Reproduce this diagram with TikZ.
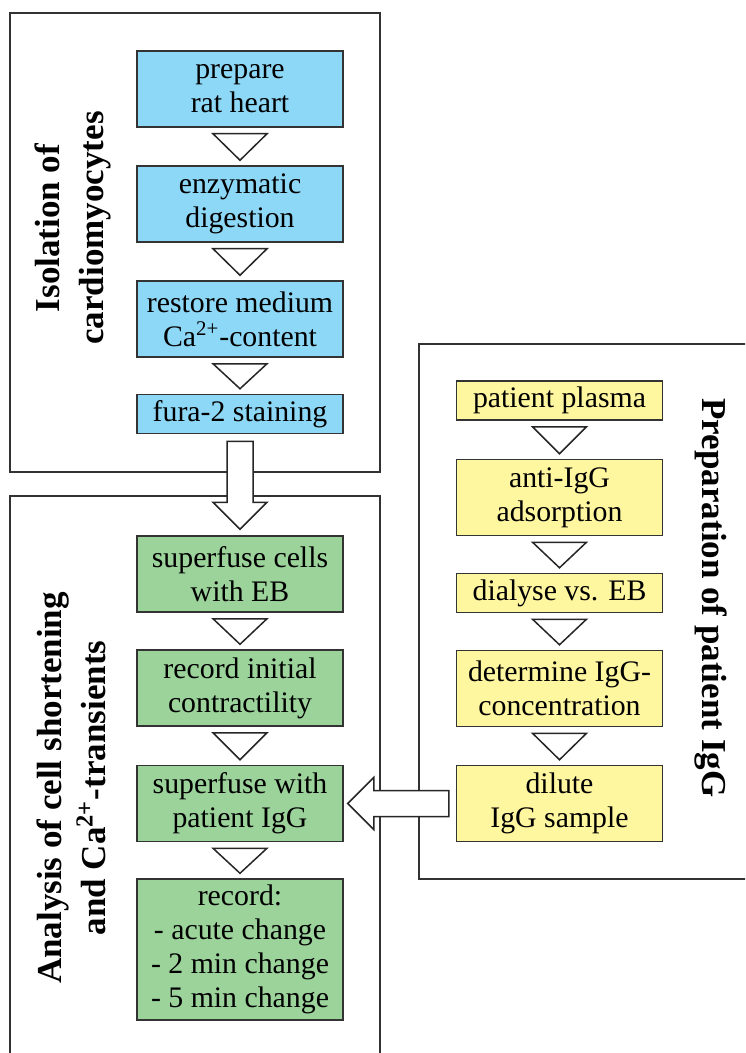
\documentclass[tikz,border=0pt]{standalone}
\usepackage{fontspec}
\setmainfont{Liberation Serif}
\usetikzlibrary{calc}

\definecolor{cellblue}{RGB}{141,216,247}
\definecolor{cellgreen}{RGB}{155,211,155}
\definecolor{iggyellow}{RGB}{255,246,160}
\definecolor{framegray}{RGB}{50,50,50}

% open triangle between two steps
\newcommand{\flowtri}[2]{\draw[tri] ($(#1.south)+(-27,6)$) -- ($(#1.south)+(27,6)$) -- ($(#2.north)+(0,-5)$) -- cycle;}

\begin{document}
\begin{tikzpicture}[x=0.5pt,y=-0.5pt,
  stepbox/.style={draw=black!80, line width=0.75pt, minimum width=103pt, inner sep=0pt, align=center, font=\fontsize{14.9}{17}\selectfont},
  tall/.style={minimum height=38pt},
  short/.style={minimum height=19.5pt},
  tri/.style={draw=black!85, line width=0.75pt, fill=white},
  frame/.style={draw=framegray, line width=1pt},
  bigarrow/.style={draw=black!85, line width=0.75pt, fill=white},
  sidelabel/.style={align=center, font=\bfseries\fontsize{17.5}{22}\selectfont}]

\clip (0,0) rectangle (745,1053);
\fill[white] (0,0) rectangle (745,1053);

% Frames
\draw[frame] (10,13) rectangle (380,472);
\draw[frame] (10,496) rectangle (380,1080);
\draw[frame] (419,344) rectangle (760,879);

% Side labels
\node[sidelabel, rotate=90] (isolab) at (73,228) {Isolation of\\cardiomyocytes};
\node[sidelabel, rotate=90] (analab) at (71,788) {Analysis of cell shortening\\and Ca\textsuperscript{2+}-transients};
\node[sidelabel, rotate=-90] (preplab) at (711,598) {Preparation of patient IgG};

% Isolation steps
\node[stepbox, tall, fill=cellblue] (heart) at (240,89) {prepare\\rat heart};
\node[stepbox, tall, fill=cellblue] (digest) at (240,204) {enzymatic\\digestion};
\node[stepbox, tall, fill=cellblue] (medium) at (240,319) {restore medium\\Ca\textsuperscript{2+}-content};
\node[stepbox, short, fill=cellblue] (fura) at (240,414) {fura-2 staining};

% Analysis steps
\node[stepbox, tall, fill=cellgreen] (cells) at (240,574) {superfuse cells\\with EB};
\node[stepbox, tall, fill=cellgreen] (initial) at (240,688) {record initial\\contractility};
\node[stepbox, tall, fill=cellgreen] (igg) at (240,803.5) {superfuse with\\patient IgG};
\node[stepbox, minimum height=70.5pt, fill=cellgreen] (record) at (240,949.5) {record:\\- acute change\\- 2 min change\\- 5 min change};

% IgG preparation steps
\node[stepbox, short, fill=iggyellow] (plasma) at (559.5,400.5) {patient plasma};
\node[stepbox, tall, fill=iggyellow] (adsorb) at (559.5,497.5) {anti-IgG\\adsorption};
\node[stepbox, short, fill=iggyellow] (dialyse) at (559.5,593) {dialyse vs. EB};
\node[stepbox, tall, fill=iggyellow] (conc) at (559.5,688.5) {determine IgG-\\concentration};
\node[stepbox, tall, fill=iggyellow] (dilute) at (559.5,803.5) {dilute\\IgG sample};

% Triangles
\flowtri{heart}{digest}
\flowtri{digest}{medium}
\flowtri{medium}{fura}
\flowtri{cells}{initial}
\flowtri{initial}{igg}
\flowtri{igg}{record}
\flowtri{plasma}{adsorb}
\flowtri{adsorb}{dialyse}
\flowtri{dialyse}{conc}
\flowtri{conc}{dilute}

% Block arrows
\draw[bigarrow] ($(fura.south)+(-13,7)$) -- ($(cells.north)+(-13,-33)$) -- ($(cells.north)+(-27,-33)$)
  -- ($(cells.north)+(0,-6)$) -- ($(cells.north)+(27,-33)$) -- ($(cells.north)+(13,-33)$)
  -- ($(fura.south)+(13,7)$) -- cycle;
\draw[bigarrow] ($(dilute.west)+(-7,-13)$) -- ($(igg.east)+(30,-13)$) -- ($(igg.east)+(30,-26)$)
  -- ($(igg.east)+(4,0)$) -- ($(igg.east)+(30,26)$) -- ($(igg.east)+(30,13)$)
  -- ($(dilute.west)+(-7,13)$) -- cycle;

\end{tikzpicture}
\end{document}
